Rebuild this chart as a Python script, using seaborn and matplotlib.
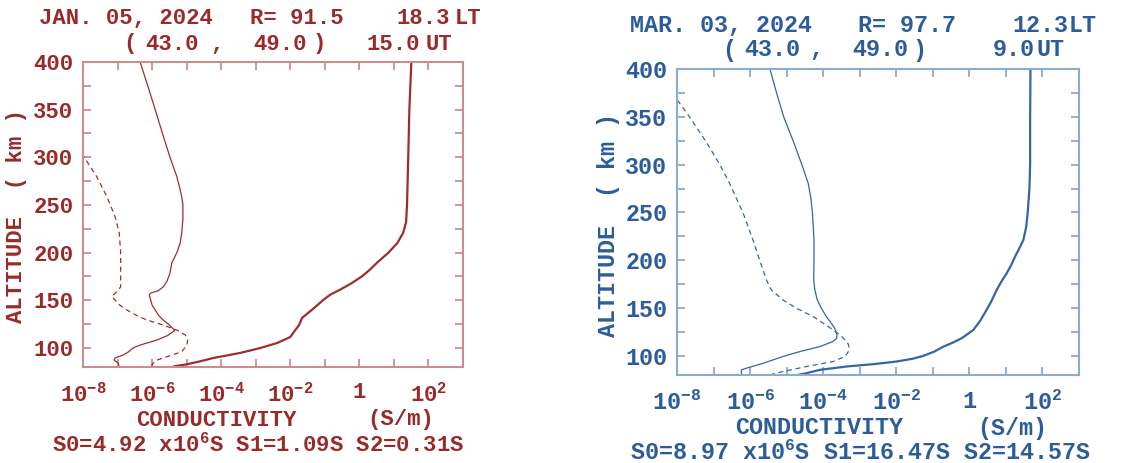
import matplotlib as mpl
mpl.use('Agg')
import matplotlib.pyplot as plt
import seaborn as sns
import numpy as np

sns.set_style('ticks')
plt.rcParams['font.family'] = ['Liberation Mono', 'DejaVu Sans']
plt.rcParams['font.weight'] = 'bold'
plt.rcParams['mathtext.fontset'] = 'custom'
plt.rcParams['mathtext.rm'] = 'Liberation Mono:bold'
plt.rcParams['mathtext.it'] = 'Liberation Mono:bold'
plt.rcParams['mathtext.bf'] = 'Liberation Mono:bold'

#%% data (altitude km, conductivity S/m)
# JAN. 05, 2024
jan_alt_s0 = [80.8, 82.5, 86, 89.5, 94.8, 100, 105.2, 111.5, 118.8, 124, 131.5, 140.2, 150.7, 156,
              161.2, 168, 175.2, 182, 189.2, 200.3, 210, 220.6, 232, 250.3, 300.3, 350, 400]
jan_s0 = [4.3e-6, 9.1e-6, 2.5e-5, 6.0e-5, 3.6e-4, 1.38e-3, 4.2e-3, 1.0e-2, 1.4e-2, 1.8e-2, 2.2e-2,
          4.3e-2, 9.3e-2, 0.145, 0.28, 0.6, 1.2, 2.0, 3.2, 7.1, 12.5, 18.5, 22.5, 24, 26, 28, 32]
jan_alt_s1 = [80.8, 84, 87.3, 89.5, 92.6, 96, 100, 103, 108.3, 113, 118.3, 124, 129.3, 134, 139.8,
              145, 150.3, 155.5, 157.5, 160, 164, 170, 178.6, 184, 189, 200, 210, 220.6, 235, 250,
              258.7, 268, 279.7, 300, 325, 350, 375, 400]
jan_s1 = [1.1e-7, 1.05e-7, 7.9e-8, 8.5e-8, 1.45e-7, 2.1e-7, 2.8e-7, 4.5e-7, 1.38e-6, 2.8e-6, 4.5e-6,
          3.2e-6, 2.1e-6, 1.55e-6, 1.23e-6, 1.0e-6, 9.1e-7, 8.3e-7, 9.0e-7, 1.5e-6, 2.1e-6, 2.7e-6,
          3.3e-6, 3.5e-6, 3.7e-6, 5.2e-6, 6.5e-6, 7.2e-6, 7.8e-6, 7.8e-6, 7.2e-6, 6.3e-6, 5.2e-6,
          3.3e-6, 2.0e-6, 1.23e-6, 7.5e-7, 4.5e-7]
jan_alt_s2 = [80.8, 82.5, 87.3, 90.8, 96, 103, 108.3, 113.6, 118.8, 124, 129.3, 134, 139.8, 145,
              150.3, 153.8, 159, 164, 178.6, 200, 220.6, 237.7, 258.7, 279.7, 302]
jan_s2 = [1.0e-6, 9.8e-7, 1.38e-6, 2.7e-6, 7.2e-6, 1.02e-5, 1.07e-5, 9.1e-6, 5.2e-6, 2.1e-6, 7.1e-7,
          3.6e-7, 1.86e-7, 1.15e-7, 8.5e-8, 6.8e-8, 9.5e-8, 1.23e-7, 1.23e-7, 1.23e-7, 1.12e-7, 8.5e-8,
          4.9e-8, 2.5e-8, 1.0e-8]

# MAR. 03, 2024
mar_alt_s0 = [80.2, 81.9, 85.4, 88.9, 91.5, 94.1, 97, 100, 104.5, 109.7, 114, 118.5, 127.2, 137, 148,
              158, 169, 178, 186.4, 195, 203.8, 212, 221.2, 235, 252.5, 275, 300, 350, 400]
mar_s0 = [2.1e-5, 3.5e-5, 8.1e-5, 4.4e-4, 2.6e-3, 1.02e-2, 2.8e-2, 5.5e-2, 0.11, 0.195, 0.36, 0.62,
          1.29, 2.0, 2.95, 4.1, 5.6, 7.6, 10.5, 14, 17.8, 23, 30, 36, 40, 44, 46, 46, 47]
mar_alt_s1 = [80.2, 85.4, 87.1, 92.3, 99.3, 104.5, 109.7, 115, 118, 121.9, 126, 130.6, 135, 141, 149.8,
              158.5, 169, 179.4, 200.3, 221.2, 249, 265, 280.4, 300.2, 325, 350, 375, 400]
mar_s1 = [5.8e-7, 5.8e-7, 7.9e-7, 2.3e-6, 7.9e-6, 2.3e-5, 8.1e-5, 1.86e-4, 2.3e-4, 2.4e-4, 2.2e-4,
          1.95e-4, 1.6e-4, 1.23e-4, 8.9e-5, 6.9e-5, 5.9e-5, 5.5e-5, 5.6e-5, 5.6e-5, 5.1e-5, 4.6e-5,
          3.9e-5, 2.6e-5, 1.5e-5, 8.3e-6, 5.3e-6, 3.5e-6]
mar_alt_s2 = [80.2, 83.6, 88.9, 94.1, 99.3, 104, 108, 112, 115, 121.9, 130.6, 141, 149.8, 158.5, 169,
              179.4, 200.3, 221.2, 249, 280.4, 300.2, 325, 350, 368]
mar_s2 = [3.5e-6, 7.9e-6, 3.5e-5, 1.86e-4, 3.9e-4, 4.8e-4, 5.1e-4, 4.9e-4, 4.4e-4, 2.9e-4, 1.38e-4,
          5.4e-5, 1.86e-5, 7.9e-6, 3.8e-6, 2.8e-6, 1.82e-6, 1.2e-6, 6.5e-7, 2.75e-7, 1.48e-7, 6.0e-8,
          2.2e-8, 1.0e-8]

jan_header = ['JAN. 05, 2024', 'R= 91.5', '18.3', '15.0']
mar_header = ['MAR. 03, 2024', 'R= 97.7', '12.3', '9.0']
jan_totals = 'S0=4.92 x10$^{6}$S S1=1.09S S2=0.31S'
mar_totals = 'S0=8.97 x10$^{6}$S S1=16.47S S2=14.57S'

xtick_vals = [1e-8, 1e-7, 1e-6, 1e-5, 1e-4, 1e-3, 1e-2, 1e-1, 1, 1e1, 1e2, 1e3]
xtick_labels = ['$10^{-8}$', '', '$10^{-6}$', '', '$10^{-4}$', '', '$10^{-2}$', '', '1', '', '$10^{2}$', '']

W, H = 1143, 463
fig = plt.figure(figsize=(W / 100, H / 100), dpi=100)


def fx(px):
    return px / W


def fy(py):
    return 1 - py / H


def panel(rect, curves, text_col, spine_col, line_col, fs):
    ax = fig.add_axes(rect)
    alt0, s0, alt1, s1, alt2, s2 = curves
    sns.lineplot(x=s0, y=alt0, sort=False, estimator=None, ax=ax, color=line_col, lw=1.6)
    sns.lineplot(x=s1, y=alt1, sort=False, estimator=None, ax=ax, color=line_col, lw=0.9)
    sns.lineplot(x=s2, y=alt2, sort=False, estimator=None, ax=ax, color=line_col, lw=0.9,
                 linestyle=(0, (4, 3)))
    ax.set_xscale('log')
    ax.set_xlim(1e-8, 1e3)
    ax.set_ylim(80, 400)
    ax.set_xticks(xtick_vals)
    ax.set_xticklabels(xtick_labels)
    ax.xaxis.set_minor_locator(mpl.ticker.NullLocator())
    ax.set_yticks(np.arange(100, 401, 50))
    ax.set_yticks(np.arange(125, 400, 50), minor=True)
    ax.tick_params(axis='both', which='both', direction='in', length=6, width=1.3,
                   color=spine_col, labelcolor=text_col, top=True, right=True)
    ax.tick_params(axis='x', labelsize=fs, pad=11)
    ax.tick_params(axis='y', labelsize=fs, pad=7)
    for lab in ax.get_xticklabels() + ax.get_yticklabels():
        lab.set_fontweight('bold')
    for sp in ax.spines.values():
        sp.set_color(spine_col)
        sp.set_linewidth(1.5)
    ax.set_xlabel('')
    ax.set_ylabel('')
    return ax


# left panel
red_txt, red_spine, red_line = '#9a2a2a', '#c98f8f', '#9e2e2e'
panel([fx(83), fy(367), fx(380), 305 / H],
      (jan_alt_s0, jan_s0, jan_alt_s1, jan_s1, jan_alt_s2, jan_s2), red_txt, red_spine, red_line, 16)

# right panel (drawn a little larger in the original)
blue_txt, blue_spine, blue_line = '#2c5d9a', '#8eaad0', '#3565a5'
panel([fx(677), fy(375), fx(402), 306 / H],
      (mar_alt_s0, mar_s0, mar_alt_s1, mar_s1, mar_alt_s2, mar_s2), blue_txt, blue_spine, blue_line, 16.8)

# headers: date, R, LT value, LT, then "( lat , lon )" pieces, UT value, UT
for hdr, col, fs, xs, ys in [
    (jan_header, red_txt, 16, (39, 250, 397, 455, 123, 145, 210, 253, 313, 367, 426), (19, 44)),
    (mar_header, blue_txt, 16.8, (630, 858, 1012, 1069, 722, 744, 809, 852, 912, 993, 1037), (25, 50)),
]:
    kw = dict(fontsize=fs, fontweight='bold', va='center', ha='left', color=col)
    fig.text(fx(xs[0]), fy(ys[0]), hdr[0], **kw)
    fig.text(fx(xs[1]), fy(ys[0]), hdr[1], **kw)
    fig.text(fx(xs[2]), fy(ys[0]), hdr[2], **kw)
    fig.text(fx(xs[3]), fy(ys[0]), 'LT', **kw)
    fig.text(fx(xs[4]), fy(ys[1]), '(', **kw)
    fig.text(fx(xs[5]), fy(ys[1]), '43.0', **kw)
    fig.text(fx(xs[6]), fy(ys[1]), ',', **kw)
    fig.text(fx(xs[7]), fy(ys[1]), '49.0', **kw)
    fig.text(fx(xs[8]), fy(ys[1]), ')', **kw)
    fig.text(fx(xs[9]), fy(ys[1]), hdr[3], **kw)
    fig.text(fx(xs[10]), fy(ys[1]), 'UT', **kw)

# axis titles
kw = dict(fontsize=16, fontweight='bold', va='center', ha='left', color=red_txt)
fig.text(fx(136), fy(420), 'CONDUCTIVITY', **kw)
fig.text(fx(367), fy(420), '(S/m)', **kw)
fig.text(fx(52), fy(445), jan_totals, **kw)
fig.text(fx(17), fy(216), 'ALTITUDE  ( km )', color=red_txt, rotation=90,
         fontsize=16, fontweight='bold', ha='center', va='center')

kw = dict(fontsize=16.8, fontweight='bold', va='center', ha='left', color=blue_txt)
fig.text(fx(735), fy(428), 'CONDUCTIVITY', **kw)
fig.text(fx(977), fy(428), '(S/m)', **kw)
fig.text(fx(630), fy(453), mar_totals, **kw)
fig.text(fx(608), fy(225), 'ALTITUDE  ( km )', color=blue_txt, rotation=90,
         fontsize=16.8, fontweight='bold', ha='center', va='center')

plt.savefig('out.png', dpi=100)
